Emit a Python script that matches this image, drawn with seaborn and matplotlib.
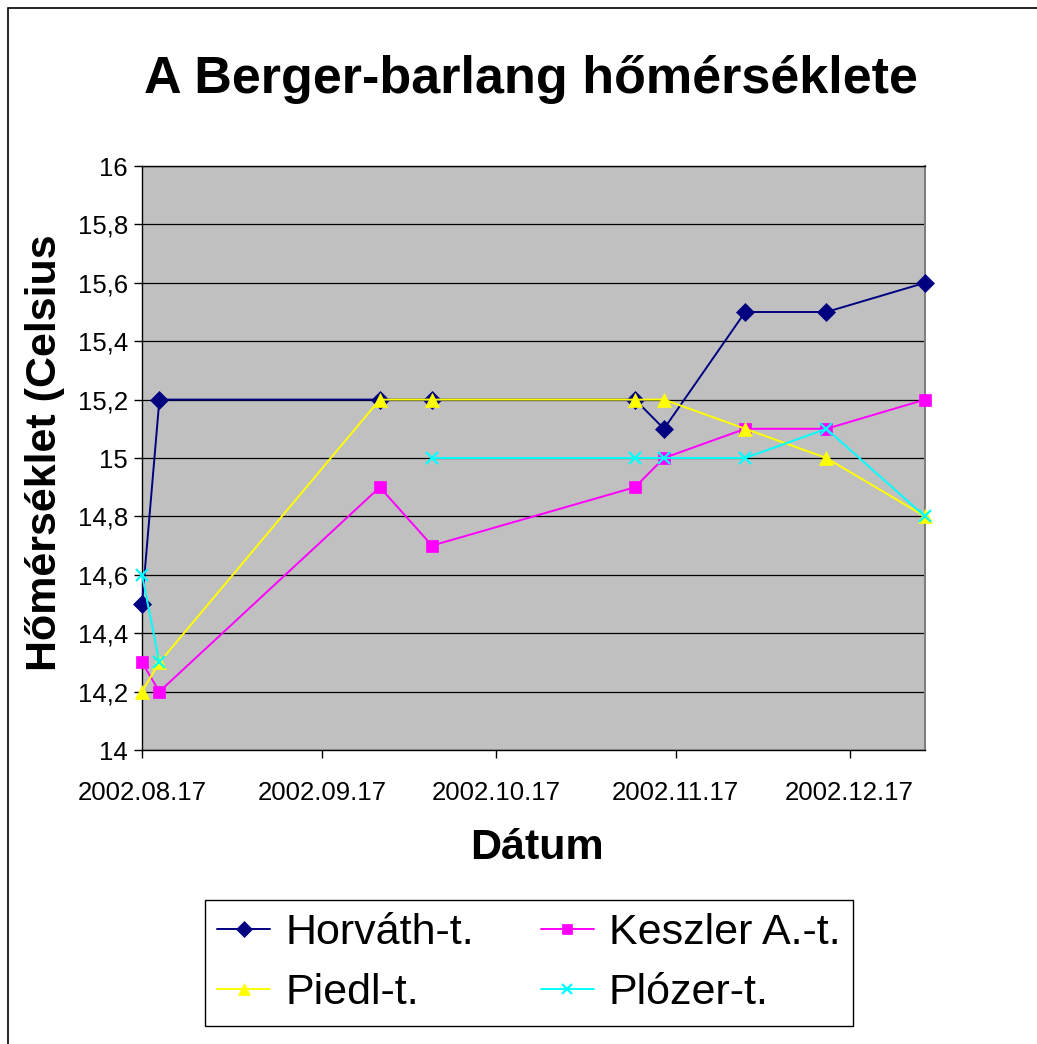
import numpy as np
import pandas as pd
import matplotlib
matplotlib.use("Agg")
import matplotlib.pyplot as plt
from matplotlib.lines import Line2D
from matplotlib.patches import Rectangle
import seaborn as sns

# ---- data ----
dates = ["2002-08-17", "2002-08-20", "2002-09-27", "2002-10-06", "2002-11-10",
         "2002-11-15", "2002-11-29", "2002-12-13", "2002-12-30"]
horvath = [14.5, 15.2, 15.2, 15.2, 15.2, 15.1, 15.5, 15.5, 15.6]
keszler = [14.3, 14.2, 14.9, 14.7, 14.9, 15.0, 15.1, 15.1, 15.2]
piedl = [14.2, 14.3, 15.2, 15.2, 15.2, 15.2, 15.1, 15.0, 14.8]
plozer = [14.6, 14.3, np.nan, 15.0, 15.0, 15.0, 15.0, 15.1, 14.8]
series_names = ["Horváth-t.", "Keszler A.-t.", "Piedl-t.", "Plózer-t."]
tick_dates = ["2002-08-17", "2002-09-17", "2002-10-17", "2002-11-17", "2002-12-17"]
tick_labels = ["2002.08.17", "2002.09.17", "2002.10.17", "2002.11.17", "2002.12.17"]
y_ticks = [14, 14.2, 14.4, 14.6, 14.8, 15, 15.2, 15.4, 15.6, 15.8, 16]
y_labels = ["14", "14,2", "14,4", "14,6", "14,8", "15", "15,2", "15,4", "15,6", "15,8", "16"]

sns.set_theme(style="white")
plt.rcParams["font.family"] = ["Liberation Sans", "DejaVu Sans"]
plt.rcParams["text.color"] = "black"
plt.rcParams["axes.labelcolor"] = "black"
plt.rcParams["xtick.color"] = "black"
plt.rcParams["ytick.color"] = "black"

styles = {
    "Horváth-t.": dict(color="#000080", marker="D", ms=9.5),
    "Keszler A.-t.": dict(color="#FF00FF", marker="s", ms=8),
    "Piedl-t.": dict(color="#FFFF00", marker="^", ms=10.5),
    "Plózer-t.": dict(color="#00FFFF", marker="x", ms=9),
}
values = {"Horváth-t.": horvath, "Keszler A.-t.": keszler,
          "Piedl-t.": piedl, "Plózer-t.": plozer}

W, H = 1037, 1044
fig = plt.figure(figsize=(W / 100, H / 100), dpi=100)
fig.patch.set_facecolor("white")
fig.patches.append(Rectangle((8 / W, -0.05), 1.2, 1 - 8 / H + 0.05,
                             transform=fig.transFigure, fill=False,
                             edgecolor="black", linewidth=1.2))

ax = fig.add_axes([142 / W, 1 - 750 / H, (925 - 142) / W, (750 - 166) / H])
ax.set_facecolor("#C0C0C0")

dt = pd.to_datetime(dates)
for name in series_names:
    st = styles[name]
    df = pd.DataFrame({"date": dt, "temp": values[name]})
    valid = df["temp"].notna()
    seg_id = (~valid).cumsum()
    mew = 1.6 if st["marker"] == "x" else 0.5
    for _, seg in df[valid].groupby(seg_id[valid]):
        sns.lineplot(data=seg, x="date", y="temp", ax=ax, color=st["color"],
                     marker=st["marker"], markersize=st["ms"], linewidth=1.4,
                     markeredgewidth=mew, markeredgecolor=st["color"],
                     estimator=None, sort=False, clip_on=False, zorder=3)

ax.set_xlim(pd.Timestamp("2002-08-17"), pd.Timestamp("2002-12-30"))
ax.set_ylim(14, 16)
ax.set_yticks(y_ticks)
ax.set_yticklabels(y_labels, fontsize=18.5)
ax.set_xticks(pd.to_datetime(tick_dates))
ax.set_xticklabels(tick_labels, fontsize=18.5)
ax.yaxis.grid(True, color="black", linewidth=0.9)
ax.xaxis.grid(False)
ax.tick_params(axis="both", direction="out", length=6, width=1, colors="black",
               left=True, bottom=True, pad=4)
ax.tick_params(axis="x", pad=16)
for side in ["left", "bottom", "top"]:
    ax.spines[side].set_color("black")
    ax.spines[side].set_linewidth(1)
ax.spines["right"].set_color("#808080")
ax.spines["right"].set_linewidth(1.5)
ax.set_xlabel("")
ax.set_ylabel("")

fig.text(531 / W, 1 - 93 / H, "A Berger-barlang hőmérséklete", ha="center", va="baseline",
         fontsize=37.5, fontweight="bold")
fig.text(45 / W, 1 - 453 / H, "Hőmérséklet (Celsius", ha="center", va="center",
         rotation=90, fontsize=31, fontweight="bold")
fig.text(537 / W, 1 - 848 / H, "Dátum", ha="center", va="center",
         fontsize=31, fontweight="bold")

leg_order = ["Horváth-t.", "Piedl-t.", "Keszler A.-t.", "Plózer-t."]
handles = [Line2D([], [], color=styles[n]["color"], marker=styles[n]["marker"],
                  markersize=styles[n]["ms"] * 0.85, linewidth=1.4,
                  markeredgewidth=1.6 if styles[n]["marker"] == "x" else 0.5,
                  markeredgecolor=styles[n]["color"]) for n in leg_order]
leg = fig.legend(handles, leg_order, loc="center", ncol=2,
                 bbox_to_anchor=(529 / W, 1 - 963 / H), fontsize=31,
                 frameon=True, fancybox=False, edgecolor="black", framealpha=1,
                 handlelength=1.23, handletextpad=0.35, columnspacing=1.55,
                 labelspacing=0.45, borderpad=0.3)
leg.get_frame().set_linewidth(1)

fig.savefig("out.png", dpi=100)
